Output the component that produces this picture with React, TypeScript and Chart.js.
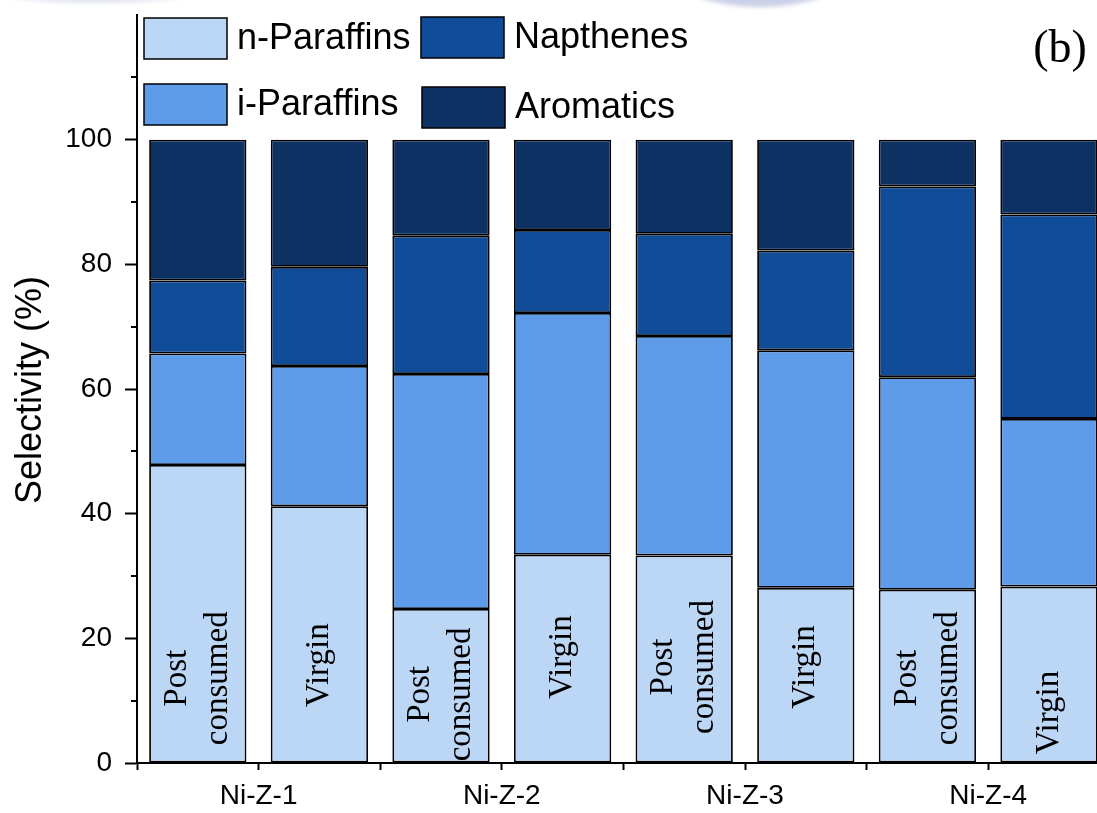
import React, { useEffect, useRef } from "react";
import { Chart, registerables } from "chart.js";

Chart.register(...registerables);

// Catalysts (two samples each) and the plastic feed of every sample
const catalysts = ["Ni-Z-1", "Ni-Z-2", "Ni-Z-3", "Ni-Z-4"];
const feeds = [
  "Post consumed", "Virgin",
  "Post consumed", "Virgin",
  "Post consumed", "Virgin",
  "Post consumed", "Virgin",
];

// Product selectivity (%) of each sample, stacked from the bottom up
const nParaffins = [47.8, 41.2, 24.7, 33.4, 33.3, 28.1, 27.8, 28.3];
const iParaffins = [17.9, 22.5, 37.7, 38.8, 35.2, 38.1, 34.1, 26.9];
const napthenes = [11.7, 15.9, 22.2, 13.3, 16.4, 16.0, 30.6, 32.8];
const aromatics = [22.6, 20.4, 15.4, 14.5, 15.1, 17.8, 7.5, 12.0];

// Level (in %) where the feed name is written inside each bar
const feedLabelLevel = [13.6, 15.7, 11.0, 17.0, 15.4, 15.4, 13.6, 8.1];

const seriesNames = ["n-Paraffins", "i-Paraffins", "Napthenes", "Aromatics"];
const seriesColors = ["#BCD6F5", "#5E9BE8", "#114C98", "#0D3162"];

const yMajorTicks = [0, 20, 40, 60, 80, 100];
const yMinorTicks = [10, 30, 50, 70, 90, 110];
const yMax = 120;

const SANS = '"Liberation Sans", Arial, Helvetica, sans-serif';
const SERIF = '"Liberation Serif", "Times New Roman", serif';

const W = 1097;
const H = 813;
const AXIS_LEFT = 137;
const SLOT = 121.6;

const decorations = {
  id: "decorations",
  beforeDraw(chart: any) {
    const ctx = chart.ctx;
    ctx.save();
    ctx.fillStyle = "#fff";
    ctx.fillRect(0, 0, chart.width, chart.height);
    // faint band along the top edge
    ctx.filter = "blur(2px)";
    ctx.fillStyle = "rgba(175,186,214,0.4)";
    ctx.beginPath();
    ctx.ellipse(95, -30, 150, 33, 0, 0, Math.PI * 2);
    ctx.fill();
    ctx.fillStyle = "rgba(150,162,208,0.5)";
    ctx.beginPath();
    ctx.ellipse(760, -34, 95, 41, 0, 0, Math.PI * 2);
    ctx.fill();
    ctx.restore();
  },
  afterDraw(chart: any) {
    const ctx = chart.ctx;
    const yScale = chart.scales.y;
    const left = chart.chartArea.left;

    ctx.save();
    // minor ticks on the y axis
    ctx.strokeStyle = "#000";
    ctx.lineWidth = 2;
    yMinorTicks.forEach((v) => {
      const py = Math.round(yScale.getPixelForValue(v));
      ctx.beginPath();
      ctx.moveTo(left - 6, py);
      ctx.lineTo(left, py);
      ctx.stroke();
    });

    // feed name written vertically inside every bar
    const meta = chart.getDatasetMeta(0);
    ctx.fillStyle = "#000";
    ctx.font = `33px ${SERIF}`;
    ctx.textAlign = "center";
    ctx.textBaseline = "middle";
    feeds.forEach((name, i) => {
      const bar = meta.data[i];
      if (!bar) return;
      const by = yScale.getPixelForValue(feedLabelLevel[i]);
      const lines = name.split(" ");
      ctx.save();
      ctx.translate(bar.x, by);
      ctx.rotate(-Math.PI / 2);
      lines.forEach((ln, j) => {
        ctx.fillText(ln, 0, (j - (lines.length - 1) / 2) * 41);
      });
      ctx.restore();
    });

    // legend: two columns of two entries
    const slots = [
      { x: 144, y: 18 },
      { x: 144, y: 84 },
      { x: 421, y: 17 },
      { x: 422, y: 87 },
    ];
    ctx.font = `36px ${SANS}`;
    ctx.textAlign = "left";
    chart.data.datasets.forEach((ds: any, i: number) => {
      const s = slots[i];
      ctx.fillStyle = ds.backgroundColor;
      ctx.fillRect(s.x, s.y, 83, 41);
      ctx.strokeStyle = "#000";
      ctx.lineWidth = 1.5;
      ctx.strokeRect(s.x, s.y, 83, 41);
      ctx.fillStyle = "#000";
      ctx.fillText(ds.label, s.x + 93, s.y + 21);
    });

    // y axis title
    ctx.save();
    ctx.translate(31.5, 390);
    ctx.rotate(-Math.PI / 2);
    ctx.font = `36px ${SANS}`;
    ctx.textAlign = "center";
    ctx.textBaseline = "middle";
    ctx.fillText("Selectivity (%)", 0, 0);
    ctx.restore();

    // panel tag
    ctx.font = `46px ${SERIF}`;
    ctx.textAlign = "center";
    ctx.textBaseline = "alphabetic";
    ctx.fillText("(b)", 1060, 62);
    ctx.restore();
  },
};

export default function App() {
  const canvasRef = useRef<HTMLCanvasElement | null>(null);

  useEffect(() => {
    const canvas = canvasRef.current;
    if (!canvas) return;

    const series = [nParaffins, iParaffins, napthenes, aromatics];
    const datasets = series.map((values, k) => ({
      label: seriesNames[k],
      data: values.map((v, i) => ({ x: i + 0.5, y: v })),
      backgroundColor: seriesColors[k],
      borderColor: "#000",
      borderWidth: 1.8,
      borderSkipped: false,
      stack: "all",
      barPercentage: 0.8,
      categoryPercentage: 1,
    }));

    const chart = new Chart(canvas, {
      type: "bar",
      data: { datasets },
      options: {
        animation: false,
        responsive: false,
        layout: { padding: { left: 0, right: 0, top: 15, bottom: 0 } },
        plugins: {
          legend: { display: false },
          tooltip: { enabled: false },
        },
        scales: {
          x: {
            type: "linear",
            stacked: true,
            min: 0,
            max: (W - AXIS_LEFT) / SLOT,
            offset: false,
            afterFit: (s: any) => {
              s.height = 50;
              s.paddingLeft = 0;
              s.paddingRight = 0;
              s.paddingTop = 0;
              s.paddingBottom = 0;
            },
            afterBuildTicks: (s: any) => {
              s.ticks = [0, 1, 2, 3, 4, 5, 6, 7].map((v) => ({ value: v }));
            },
            grid: {
              offset: false,
              drawOnChartArea: false,
              drawTicks: true,
              tickLength: 7,
              tickWidth: 2,
              tickColor: "#000",
            },
            border: { display: true, color: "#000", width: 2 },
            ticks: {
              autoSkip: false,
              maxRotation: 0,
              padding: 9,
              color: "#000",
              font: { family: SANS, size: 28 },
              callback: (v: any) =>
                Number(v) % 2 === 1 ? catalysts[(Number(v) - 1) / 2] : "",
            },
          },
          y: {
            type: "linear",
            stacked: true,
            min: 0,
            max: yMax,
            afterFit: (s: any) => {
              s.width = AXIS_LEFT;
              s.paddingTop = 0;
              s.paddingBottom = 0;
              s.paddingLeft = 0;
              s.paddingRight = 0;
            },
            afterBuildTicks: (s: any) => {
              s.ticks = yMajorTicks.map((v) => ({ value: v }));
            },
            grid: {
              drawOnChartArea: false,
              drawTicks: true,
              tickLength: 12,
              tickWidth: 2,
              tickColor: "#000",
            },
            border: { display: true, color: "#000", width: 2 },
            ticks: {
              padding: 13,
              color: "#000",
              font: { family: SANS, size: 28 },
              callback: (v: any) => String(v),
            },
          },
        },
      },
      plugins: [decorations],
    });

    return () => chart.destroy();
  }, []);

  return (
    <div
      style={{
        position: "fixed",
        left: 0,
        top: 0,
        width: W,
        height: H,
        background: "#fff",
        overflow: "hidden",
      }}
    >
      <canvas ref={canvasRef} width={W} height={H} style={{ display: "block" }} />
    </div>
  );
}
